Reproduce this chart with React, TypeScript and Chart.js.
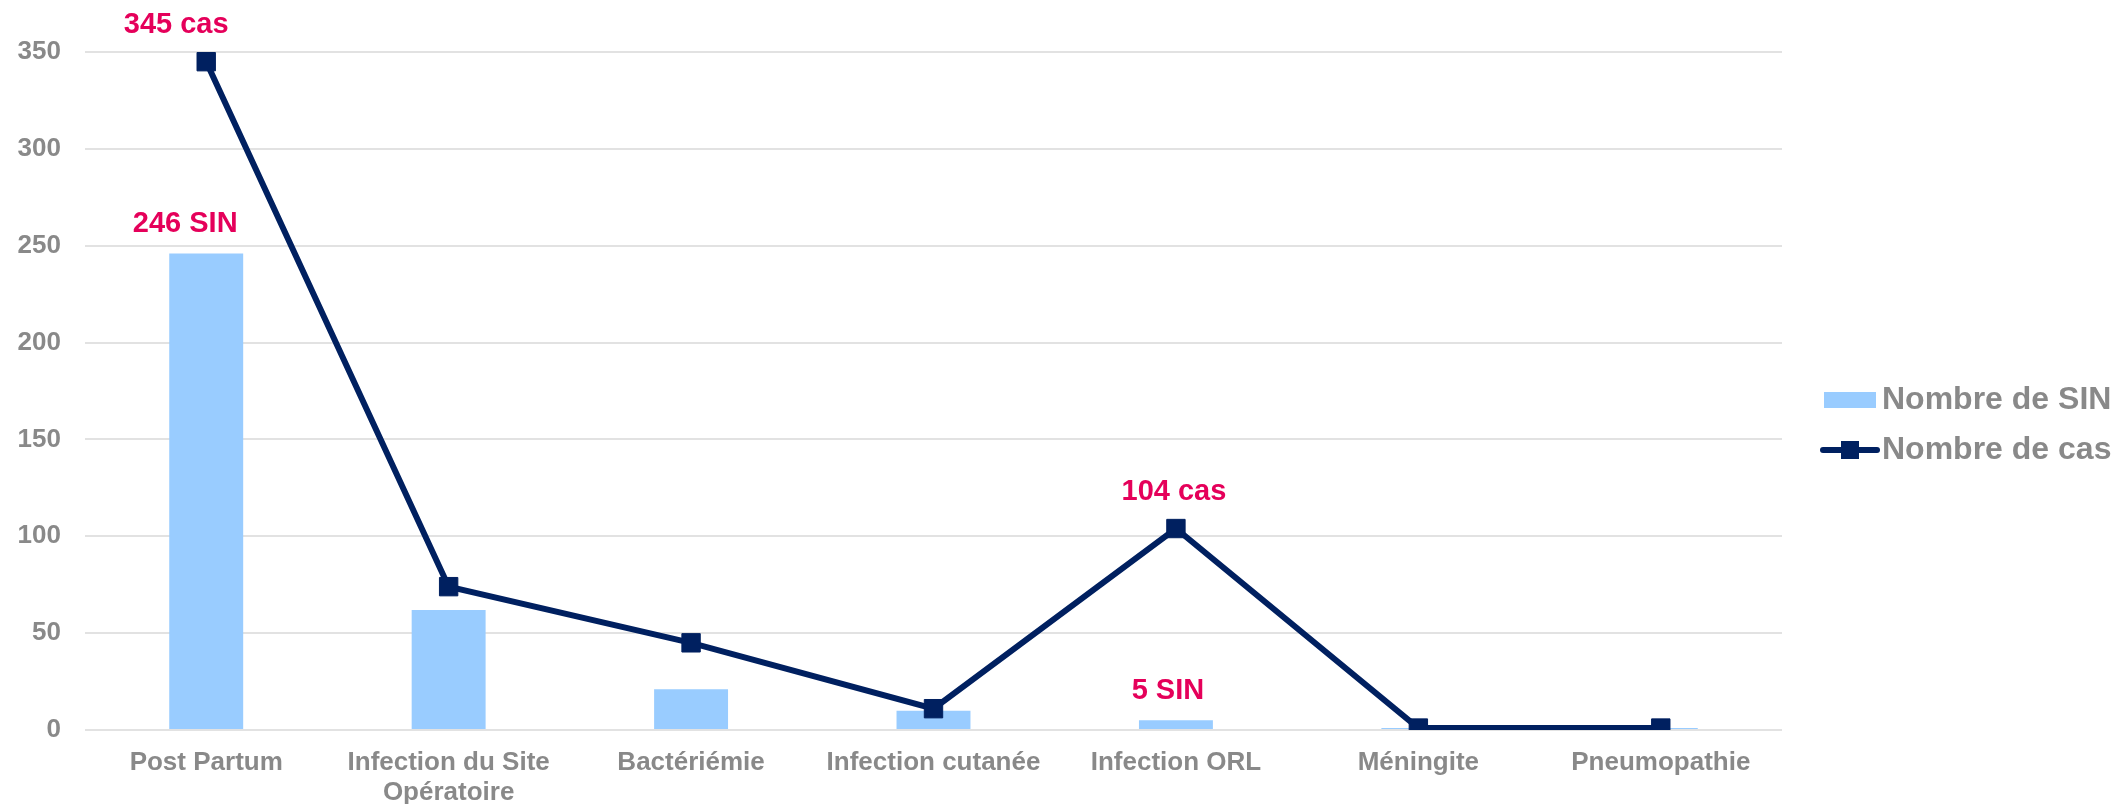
import React, { useEffect, useRef } from 'react';
import { Chart, registerables } from 'chart.js';

Chart.register(...registerables);

// ---- Data ----
const categories: (string | string[])[] = [
  'Post Partum',
  ['Infection du Site', 'Opératoire'],
  'Bactériémie',
  'Infection cutanée',
  'Infection ORL',
  'Méningite',
  'Pneumopathie',
];
const sinValues = [246, 62, 21, 10, 5, 1, 1];
const casValues = [345, 74, 45, 11, 104, 1, 1];
const sinLabels = ['246 SIN', '', '', '', '5 SIN', '', ''];
const casLabels = ['345 cas', '', '', '', '104 cas', '', ''];
const seriesNames = ['Nombre de SIN', 'Nombre de cas'];
const yMin = 0;
const yMax = 350;
const yStep = 50;

// ---- Styles ----
const FONT = '"Liberation Sans", Arial, Helvetica, sans-serif';
const GRAY = '#898989';
const PINK = '#E5005A';
const NAVY = '#002060';
const LIGHT_BLUE = '#99CCFF';
const GRID = '#E2E2E2';

// label nudges (pixels) for the annotations, matching the original hand placement
const sinNudgeX = [-21, 0, 0, 0, -8, 0, 0];
const casNudgeX = [-30, 0, 0, 0, -2, 0, 0];

const annotationPlugin = {
  id: 'annotations',
  afterDatasetsDraw(chart: any) {
    const ctx = chart.ctx;
    ctx.save();
    ctx.font = `bold 29px ${FONT}`;
    ctx.fillStyle = PINK;
    ctx.textAlign = 'center';
    ctx.textBaseline = 'middle';
    const lineMeta = chart.getDatasetMeta(0);
    const barMeta = chart.getDatasetMeta(1);
    barMeta.data.forEach((el: any, i: number) => {
      if (sinLabels[i]) ctx.fillText(sinLabels[i], el.x + sinNudgeX[i], el.y - 29);
    });
    lineMeta.data.forEach((el: any, i: number) => {
      if (casLabels[i]) ctx.fillText(casLabels[i], el.x + casNudgeX[i], el.y - 37);
    });
    ctx.restore();
  },
};

const legendPlugin = {
  id: 'customLegend',
  afterDraw(chart: any) {
    const ctx = chart.ctx;
    const area = chart.chartArea;
    const x0 = area.right + 42;
    const cy = (area.top + area.bottom) / 2;
    const y1 = cy - 25 + 34;
    const y2 = cy + 25 + 34;
    ctx.save();
    // bar entry
    ctx.fillStyle = LIGHT_BLUE;
    ctx.fillRect(x0, y1 - 8, 52, 16);
    // line entry
    ctx.strokeStyle = NAVY;
    ctx.lineWidth = 6;
    ctx.lineCap = 'round';
    ctx.beginPath();
    ctx.moveTo(x0 - 1, y2);
    ctx.lineTo(x0 + 53, y2);
    ctx.stroke();
    ctx.fillStyle = NAVY;
    ctx.fillRect(x0 + 26 - 9, y2 - 9, 18, 18);
    // text
    ctx.font = `bold 32px ${FONT}`;
    ctx.fillStyle = GRAY;
    ctx.textAlign = 'left';
    ctx.textBaseline = 'middle';
    ctx.fillText(seriesNames[0], x0 + 58, y1);
    ctx.fillText(seriesNames[1], x0 + 58, y2);
    ctx.restore();
  },
};

export default function App() {
  const canvasRef = useRef<HTMLCanvasElement | null>(null);

  useEffect(() => {
    const canvas = canvasRef.current;
    if (!canvas) return;
    const chart = new Chart(canvas, {
      type: 'bar',
      data: {
        labels: categories as any,
        datasets: [
          {
            type: 'line',
            label: seriesNames[1],
            data: casValues,
            borderColor: NAVY,
            backgroundColor: NAVY,
            borderWidth: 6,
            pointStyle: 'rect',
            pointRadius: 13,
            pointBorderWidth: 1,
            pointBackgroundColor: NAVY,
            pointBorderColor: NAVY,
            tension: 0,
            order: 0,
          } as any,
          {
            type: 'bar',
            label: seriesNames[0],
            data: sinValues,
            backgroundColor: LIGHT_BLUE,
            borderWidth: 0,
            barPercentage: 0.305,
            categoryPercentage: 1,
            order: 1,
          } as any,
        ],
      },
      options: {
        responsive: false,
        animation: false,
        devicePixelRatio: 1,
        layout: { padding: { top: 52, right: 334, bottom: 0, left: 0 } },
        plugins: {
          legend: { display: false },
          tooltip: { enabled: false },
        },
        scales: {
          x: {
            grid: { display: false, drawTicks: false },
            border: { display: false },
            ticks: {
              color: GRAY,
              font: { family: FONT, size: 26, weight: 'bold', lineHeight: 1.15 },
              padding: 18,
              maxRotation: 0,
              autoSkip: false,
            },
            afterFit(scale: any) {
              scale.height = 74;
            },
          },
          y: {
            min: yMin,
            max: yMax,
            grid: { color: GRID, lineWidth: 2, drawTicks: false },
            border: { display: false },
            ticks: {
              stepSize: yStep,
              color: GRAY,
              font: { family: FONT, size: 26, weight: 'bold' },
              padding: 24,
            },
            afterFit(scale: any) {
              scale.width = 85;
            },
          },
        },
      } as any,
      plugins: [annotationPlugin, legendPlugin],
    });
    return () => chart.destroy();
  }, []);

  return (
    <div style={{ position: 'absolute', left: 0, top: 0, width: 2116, height: 804, background: '#fff' }}>
      <canvas ref={canvasRef} width={2116} height={804} style={{ display: 'block' }} />
    </div>
  );
}
